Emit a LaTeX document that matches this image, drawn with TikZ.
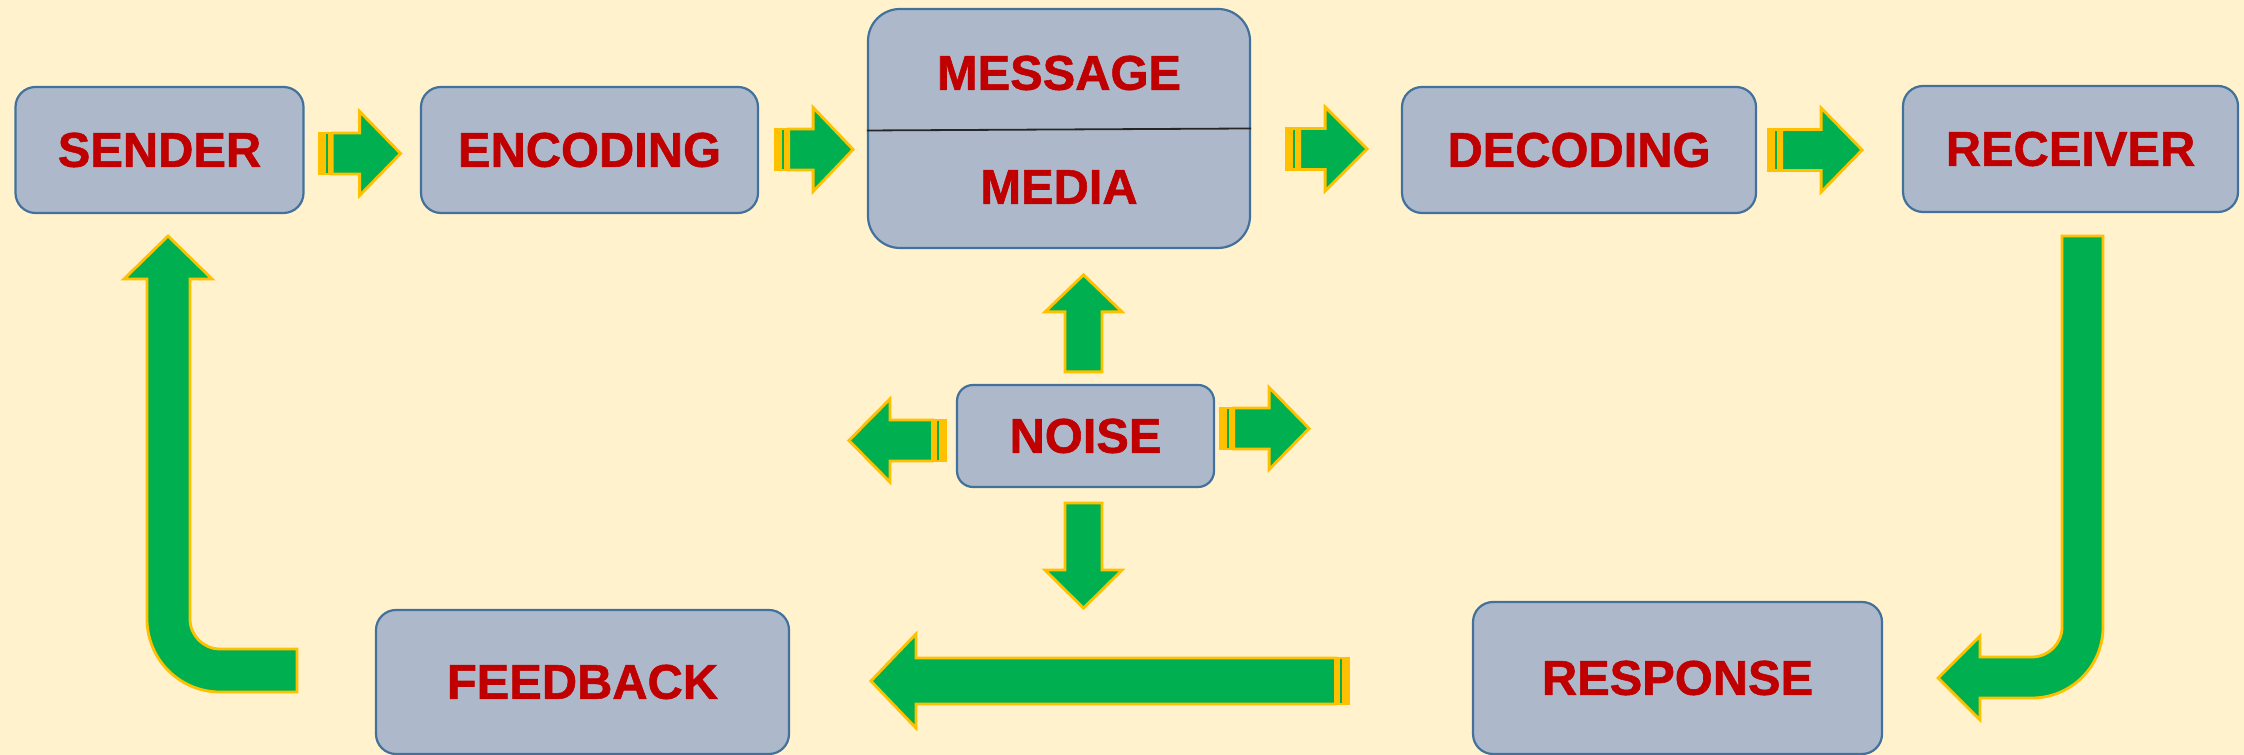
\documentclass[tikz,border=0pt]{standalone}
\usepackage{fontspec}
\setmainfont{Liberation Sans}[BoldFeatures={FakeBold=1.2}]
\usetikzlibrary{calc}

\definecolor{paper}{HTML}{FFF2CC}
\definecolor{boxfill}{HTML}{ADB9CA}
\definecolor{boxline}{HTML}{41719C}
\definecolor{txtred}{HTML}{C00000}
\definecolor{arrgreen}{HTML}{00B050}
\definecolor{arrgold}{HTML}{FFC000}

\tikzset{
  word/.style={text=txtred, font=\bfseries\fontsize{12.2}{14}\selectfont, inner sep=0pt},
  stage/.style={word, draw=boxline, fill=boxfill, line width=0.55pt, rounded corners=5pt},
  boxsize/.style 2 args={minimum width=#1*0.25pt, minimum height=#2*0.25pt},
  arrowpaint/.style={fill=arrgreen, draw=arrgold, line width=0.7pt, sharp corners},
  % length / body half width / head half width / head length
  pics/stripearrow/.style args={#1/#2/#3/#4}{code={
    \filldraw[arrowpaint] (1.5,-#2) rectangle (4.5,#2);
    \filldraw[arrowpaint] (6.5,-#2) rectangle (11.5,#2);
    \filldraw[arrowpaint] (14.5,-#2) -- (#1-#4,-#2) -- (#1-#4,-#3) -- (#1,0)
      -- (#1-#4,#3) -- (#1-#4,#2) -- (14.5,#2) -- cycle;
  }},
  pics/plainarrow/.style args={#1/#2/#3/#4}{code={
    \filldraw[arrowpaint] (0,-#2) -- (#1-#4,-#2) -- (#1-#4,-#3) -- (#1,0)
      -- (#1-#4,#3) -- (#1-#4,#2) -- (0,#2) -- cycle;
  }}
}

\begin{document}
\begin{tikzpicture}[x=0.25pt, y=-0.25pt]
  \useasboundingbox (0,0) rectangle (2244,755);
  \fill[paper] (0,0) rectangle (2244,755);

  % top row
  \node[stage, boxsize={288}{126}] (sender)   at (159.5,150)  {SENDER};
  \node[stage, boxsize={337}{126}] (encoding) at (589.5,150)  {ENCODING};
  \node[stage, boxsize={382}{239}, rounded corners=8pt] (message) at (1059,128.5) {};
  \node[stage, boxsize={354}{126}] (decoding) at (1579,150)   {DECODING};
  \node[stage, boxsize={335}{126}] (receiver) at (2070.5,149) {RECEIVER};

  \draw[line width=0.45pt, black!85] ($(message.west)+(0,2)$) -- (message.east);
  \node[word] (msgword)   at (1059,73)  {MESSAGE};
  \node[word] (mediaword) at (1059,187) {MEDIA};

  % middle and bottom
  \node[stage, boxsize={257}{102}, rounded corners=4pt] (noise) at (1085.5,436) {NOISE};
  \node[stage, boxsize={413}{144}] (feedback) at (582.5,682)  {FEEDBACK};
  \node[stage, boxsize={409}{152}] (response) at (1677.5,678) {RESPONSE};

  % arrows along the top
  \pic at ($(sender.east)+(13,3.5)$)    {stripearrow=83/20.5/42/41};
  \pic at ($(encoding.east)+(15,-0.5)$) {stripearrow=79/20.5/42/40};
  \pic at ($(message.east)+(34,20.5)$)  {stripearrow=82/20.5/42/42};
  \pic at ($(decoding.east)+(10,0)$)    {stripearrow=95/20.5/42/41};

  % noise spreading out
  \pic[rotate=90]  at ($(noise.north)+(-2,-12)$) {plainarrow=97/18.5/38.5/37};
  \pic[rotate=-90] at ($(noise.south)+(-2,15)$)  {plainarrow=105/18.5/38.5/38};
  \pic[rotate=180] at ($(noise.west)+(-9,4.5)$)  {stripearrow=98/20.5/41.5/41};
  \pic             at ($(noise.east)+(4,-7.5)$)  {stripearrow=90/20.5/41/40};

  % response back to feedback
  \pic[rotate=180] at ($(response.west)+(-122,3)$) {stripearrow=479/23/47/45};

  % receiver down to response
  \filldraw[arrowpaint] (2062,236) -- (2103,236) -- (2103,627)
    arc[start angle=0, end angle=90, radius=71] -- (1980,698) -- (1980,720)
    -- (1938,678) -- (1980,636) -- (1980,657) -- (2032,657)
    arc[start angle=90, end angle=0, radius=30] -- cycle;

  % feedback up to sender
  \filldraw[arrowpaint] (168,236) -- (212,279) -- (190,279) -- (190,619)
    arc[start angle=180, end angle=90, radius=30] -- (297,649) -- (297,692)
    -- (220,692) arc[start angle=90, end angle=180, radius=73]
    -- (147,279) -- (124,279) -- cycle;
\end{tikzpicture}
\end{document}
